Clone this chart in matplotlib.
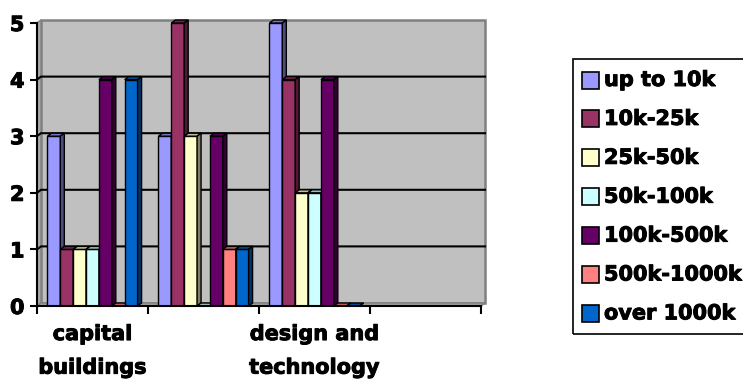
import numpy as np
import matplotlib
matplotlib.use("Agg")
import matplotlib.pyplot as plt
import matplotlib.patheffects as pe
from matplotlib.patches import Polygon, Rectangle
from matplotlib.colors import to_rgb

plt.rcParams['font.family'] = ['DejaVu Sans']
plt.rcParams['font.weight'] = 'bold'

nan = np.nan
categories = ["capital\nbuildings", "", "design and\ntechnology", ""]
series = ["up to 10k", "10k-25k", "25k-50k", "50k-100k",
          "100k-500k", "500k-1000k", "over 1000k"]
colors = ["#9999ff", "#993366", "#ffffcc", "#ccffff",
          "#660066", "#ff8080", "#0066cc"]
# counts per series, one value per category (nan = no entry)
up_to_10k = [3, 3, 5, nan]
k10_25 = [1, 5, 4, nan]
k25_50 = [1, 3, 2, nan]
k50_100 = [1, 0, 2, nan]
k100_500 = [4, 3, 4, nan]
k500_1000 = [0, 1, 0, nan]
over_1000k = [4, 1, 0, nan]
values = [up_to_10k, k10_25, k25_50, k50_100, k100_500, k500_1000, over_1000k]
y_ticks = [0, 1, 2, 3, 4, 5]

W, H = 743, 381
fig = plt.figure(figsize=(W / 100, H / 100), dpi=100)
ax_l, ax_r, ax_t, ax_b = 37, 481, 23, 306
ax = fig.add_axes([ax_l / W, 1 - ax_b / H, (ax_r - ax_l) / W, (ax_b - ax_t) / H])
ncat = len(categories)
ymax = y_ticks[-1]
ax.set_xlim(0, ncat)
ax.set_ylim(0, ymax)

# pixel depth of the pseudo-3d walls and bars, expressed in data units
px_x = ncat / (ax_r - ax_l)
px_y = ymax / (ax_b - ax_t)
dx, dy = 4 * px_x, 3 * px_y

def shade(c, f):
    r, g, b = to_rgb(c)
    return (r * f, g * f, b * f)

# back wall, side wall and floor
ax.add_patch(Polygon([(dx, dy), (dx, ymax + dy), (ncat + dx, ymax + dy), (ncat + dx, dy)],
                     closed=True, fc="#c0c0c0", ec="#808080", lw=1.8, clip_on=False, zorder=0))
ax.add_patch(Polygon([(0, 0), (0, ymax), (dx, ymax + dy), (dx, dy)],
                     closed=True, fc="#a8a8a8", ec="#808080", lw=1, clip_on=False, zorder=0.5))
ax.add_patch(Polygon([(0, 0), (ncat, 0), (ncat + dx, dy), (dx, dy)],
                     closed=True, fc="#a0a0a0", ec="#808080", lw=1, clip_on=False, zorder=0.5))
for yv in y_ticks[1:-1]:
    ax.plot([0, dx, ncat + dx], [yv, yv + dy, yv + dy], color="black", lw=1.5,
            clip_on=False, zorder=1)

# clustered bars with top and side faces
nser = len(series)
bw = 0.116
start = (1 - nser * bw) / 2
x0 = np.arange(ncat)
z = 2
for i, (vals, col) in enumerate(zip(values, colors)):
    lefts = x0 + start + i * bw
    for left, v in zip(lefts, vals):
        if np.isnan(v):
            continue
        ax.bar(left, v, width=bw, align="edge", color=col, ec="black", lw=1,
               zorder=z)
        ax.add_patch(Polygon([(left, v), (left + dx, v + dy), (left + bw + dx, v + dy), (left + bw, v)],
                             closed=True, fc=shade(col, 0.75), ec="black", lw=1,
                             clip_on=False, zorder=z))
        ax.add_patch(Polygon([(left + bw, 0), (left + bw, v), (left + bw + dx, v + dy), (left + bw + dx, dy)],
                             closed=True, fc=shade(col, 0.5), ec="black", lw=1,
                             clip_on=False, zorder=z))
        z += 0.01

for s in ["top", "right"]:
    ax.spines[s].set_visible(False)
for s in ["left", "bottom"]:
    ax.spines[s].set_linewidth(1.5)
    ax.spines[s].set_zorder(10)

heavy = [pe.withStroke(linewidth=0.7, foreground="black")]

ax.set_yticks(y_ticks)
ax.set_yticklabels([str(t) for t in y_ticks], fontsize=15, fontweight="bold")
ax.tick_params(axis="y", length=5, width=1.5, pad=4)
ax.set_xticks(np.arange(ncat + 1))
ax.set_xticklabels([])
ax.tick_params(axis="x", which="major", length=6, width=1.5)
ax.set_xticks(x0 + 0.5, minor=True)
ax.set_xticklabels(categories, minor=True, fontsize=15, fontweight="bold",
                   linespacing=1.85)
ax.tick_params(axis="x", which="minor", length=0, pad=13)
for lbl in ax.get_yticklabels() + ax.get_xticklabels(minor=True):
    lbl.set_path_effects(heavy)

# legend box
def fx(px):
    return px / W

def fy(py):
    return 1 - py / H

fig.patches.append(Rectangle((fx(573), fy(334)), fx(752) - fx(573), fy(59) - fy(334),
                             transform=fig.transFigure, fill=False, ec="black", lw=1.2))
row0, step, sq = 80, 38.9, 17
for i, (name, col) in enumerate(zip(series, colors)):
    cy = row0 + i * step
    fig.patches.append(Rectangle((fx(582), fy(cy + sq / 2)), sq / W, sq / H,
                                 transform=fig.transFigure, fc=col, ec="black", lw=1.2))
    fig.text(fx(604), fy(cy), name, fontsize=15, fontweight="bold",
             va="center", ha="left", path_effects=heavy)

fig.savefig("out.png", dpi=100)
